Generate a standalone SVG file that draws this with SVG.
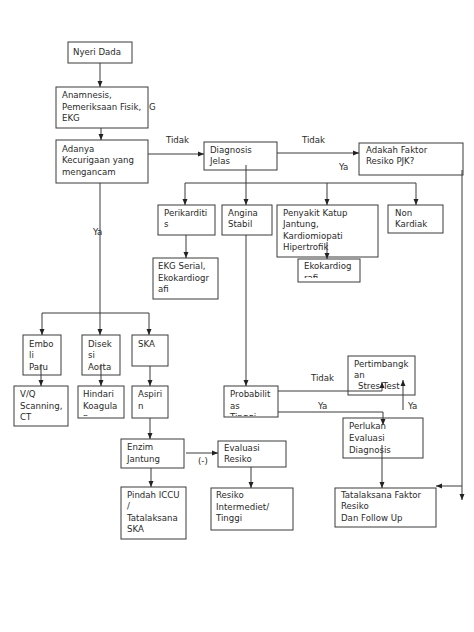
<svg xmlns="http://www.w3.org/2000/svg" width="474" height="632" viewBox="0 0 474 632">
<style>
.box{fill:#fff;stroke:#3a3a3a;stroke-width:1}
.t{font-family:"DejaVu Sans",Verdana,sans-serif;font-size:8.6px;fill:#2a2a2a}
.c{fill:none;stroke:#3a3a3a;stroke-width:1}
</style>
<defs>
<marker id="ah" markerUnits="userSpaceOnUse" markerWidth="6" markerHeight="6" viewBox="0 0 6 6" refX="6" refY="3" orient="auto">
<path d="M0,0.5 L6,3 L0,5.5 Z" fill="#222"/>
</marker>
<clipPath id="clEko"><rect x="298" y="259" width="62" height="19"/></clipPath>
<clipPath id="clHin"><rect x="78" y="386" width="46" height="30"/></clipPath>
<clipPath id="clPro"><rect x="224" y="386" width="54" height="30"/></clipPath>
</defs>
<rect width="474" height="632" fill="#fff"/>

<g id="nyeri"><rect class="box" x="68" y="42" width="64" height="21"/><text class="t" x="73" y="55">Nyeri Dada</text></g>
<g id="anamnesis"><rect class="box" x="56" y="87" width="92" height="41"/><text class="t" x="62" y="98">Anamnesis,</text><text class="t" x="62" y="110">Pemeriksaan Fisik,</text><text class="t" x="62" y="121">EKG</text><text class="t" x="149" y="110">G</text></g>
<g id="adanya"><rect class="box" x="56" y="140" width="92" height="43"/><text class="t" x="62" y="152">Adanya</text><text class="t" x="62" y="163">Kecurigaan yang</text><text class="t" x="62" y="175">mengancam</text></g>
<g id="diagnosis"><rect class="box" x="204" y="142" width="73" height="28"/><text class="t" x="210" y="153">Diagnosis</text><text class="t" x="210" y="164">Jelas</text></g>
<g id="adakah"><rect class="box" x="359" y="143" width="104" height="32"/><text class="t" x="366" y="153">Adakah Faktor</text><text class="t" x="366" y="164">Resiko PJK?</text></g>
<g id="perikarditis"><rect class="box" x="158" y="205" width="57" height="30"/><text class="t" x="164" y="216">Perikarditi</text><text class="t" x="164" y="227">s</text></g>
<g id="angina"><rect class="box" x="222" y="205" width="50" height="30"/><text class="t" x="228" y="216">Angina</text><text class="t" x="228" y="227">Stabil</text></g>
<g id="penyakit"><rect class="box" x="277" y="205" width="101" height="52"/><text class="t" x="283" y="216">Penyakit Katup</text><text class="t" x="283" y="227">Jantung,</text><text class="t" x="283" y="239">Kardiomiopati</text><text class="t" x="283" y="250">Hipertrofik</text></g>
<g id="nonkardiak"><rect class="box" x="388" y="205" width="55" height="28"/><text class="t" x="395" y="216">Non</text><text class="t" x="395" y="227">Kardiak</text></g>
<g id="ekokardiografi"><rect class="box" x="298" y="259" width="62" height="23"/><g clip-path="url(#clEko)"><text class="t" x="304" y="269">Ekokardiog</text><text class="t" x="304" y="281">rafi</text></g></g>
<g id="ekgserial"><rect class="box" x="153" y="258" width="65" height="41"/><text class="t" x="158" y="269">EKG Serial,</text><text class="t" x="158" y="281">Ekokardiogr</text><text class="t" x="158" y="292">afi</text></g>
<g id="emboli"><rect class="box" x="23" y="335" width="38" height="40"/><text class="t" x="29" y="347">Embo</text><text class="t" x="29" y="358">li</text><text class="t" x="29" y="370">Paru</text></g>
<g id="diseksi"><rect class="box" x="82" y="335" width="38" height="40"/><text class="t" x="88" y="347">Disek</text><text class="t" x="88" y="358">si</text><text class="t" x="88" y="370">Aorta</text></g>
<g id="ska"><rect class="box" x="132" y="335" width="36" height="31"/><text class="t" x="138" y="347">SKA</text></g>
<g id="vq"><rect class="box" x="14" y="386" width="54" height="40"/><text class="t" x="20" y="397">V/Q</text><text class="t" x="20" y="409">Scanning,</text><text class="t" x="20" y="420">CT</text></g>
<g id="hindari"><rect class="box" x="78" y="386" width="46" height="32"/><g clip-path="url(#clHin)"><text class="t" x="83" y="397">Hindari</text><text class="t" x="83" y="409">Koagula</text><text class="t" x="83" y="420">n</text></g></g>
<g id="aspirin"><rect class="box" x="132" y="386" width="36" height="32"/><text class="t" x="138" y="397">Aspiri</text><text class="t" x="138" y="409">n</text></g>
<g id="enzim"><rect class="box" x="121" y="439" width="63" height="29"/><text class="t" x="127" y="450">Enzim</text><text class="t" x="127" y="462">Jantung</text></g>
<g id="evaluasi"><rect class="box" x="218" y="441" width="68" height="26"/><text class="t" x="224" y="451">Evaluasi</text><text class="t" x="224" y="462">Resiko</text></g>
<g id="pindah"><rect class="box" x="121" y="487" width="65" height="52"/><text class="t" x="127" y="498">Pindah ICCU</text><text class="t" x="127" y="509">/</text><text class="t" x="127" y="521">Tatalaksana</text><text class="t" x="127" y="532">SKA</text></g>
<g id="resiko"><rect class="box" x="211" y="488" width="82" height="42"/><text class="t" x="216" y="498">Resiko</text><text class="t" x="216" y="510">Intermediet/</text><text class="t" x="216" y="521">Tinggi</text></g>
<g id="probabilitas"><rect class="box" x="224" y="386" width="54" height="31"/><g clip-path="url(#clPro)"><text class="t" x="230" y="397">Probabilit</text><text class="t" x="230" y="409">as</text><text class="t" x="230" y="420">Tinggi</text></g></g>
<g id="pertimbangkan"><rect class="box" x="348" y="356" width="67" height="39"/><text class="t" x="354" y="367">Pertimbangk</text><text class="t" x="354" y="378">an</text><text class="t" x="358" y="389">Stres Test</text></g>
<g id="perlukan"><rect class="box" x="343" y="418" width="80" height="40"/><text class="t" x="349" y="429">Perlukan</text><text class="t" x="349" y="441">Evaluasi</text><text class="t" x="349" y="453">Diagnosis</text></g>
<g id="tatalaksana"><rect class="box" x="335" y="488" width="101" height="39"/><text class="t" x="341" y="498">Tatalaksana Faktor</text><text class="t" x="341" y="509">Resiko</text><text class="t" x="341" y="521">Dan Follow Up</text></g>

<g id="connectors">
<path class="c" d="M100,63 V87" marker-end="url(#ah)"/>
<path class="c" d="M101,128 V140" marker-end="url(#ah)"/>
<path class="c" d="M148,154 H204" marker-end="url(#ah)"/>
<path class="c" d="M277,153 H359" marker-end="url(#ah)"/>
<path class="c" d="M246,165 V205" marker-end="url(#ah)"/>
<path class="c" d="M185,183 H416"/>
<path class="c" d="M185,183 V205" marker-end="url(#ah)"/>
<path class="c" d="M327,183 V205" marker-end="url(#ah)"/>
<path class="c" d="M416,183 V205" marker-end="url(#ah)"/>
<path class="c" d="M186,235 V258" marker-end="url(#ah)"/>
<path class="c" d="M327,242 V259" marker-end="url(#ah)"/>
<path class="c" d="M100,183 V335" marker-end="url(#ah)"/>
<path class="c" d="M42,313 H149"/>
<path class="c" d="M42,313 V335" marker-end="url(#ah)"/>
<path class="c" d="M149,313 V335" marker-end="url(#ah)"/>
<path class="c" d="M41,364 V386" marker-end="url(#ah)"/>
<path class="c" d="M101,364 V386" marker-end="url(#ah)"/>
<path class="c" d="M150,366 V386" marker-end="url(#ah)"/>
<path class="c" d="M150,418 V439" marker-end="url(#ah)"/>
<path class="c" d="M186,453 H218" marker-end="url(#ah)"/>
<path class="c" d="M251,467 V488" marker-end="url(#ah)"/>
<path class="c" d="M151,468 V487" marker-end="url(#ah)"/>
<path class="c" d="M246,235 V386" marker-end="url(#ah)"/>
<path class="c" d="M278,391 H382 V382" marker-end="url(#ah)"/>
<path class="c" d="M278,412 H383 V425" marker-end="url(#ah)"/>
<path class="c" d="M403,410 V380" marker-end="url(#ah)"/>
<path class="c" d="M382,445 V488" marker-end="url(#ah)"/>
<path class="c" d="M462,170 V500" marker-end="url(#ah)"/>
<path class="c" d="M462,486 H436" marker-end="url(#ah)"/>
<text class="t" x="166" y="143">Tidak</text>
<text class="t" x="302" y="143">Tidak</text>
<text class="t" x="339" y="170">Ya</text>
<text class="t" x="93" y="235">Ya</text>
<text class="t" x="198" y="464">(-)</text>
<text class="t" x="311" y="381">Tidak</text>
<text class="t" x="318" y="409">Ya</text>
<text class="t" x="408" y="409">Ya</text>
</g>
</svg>
